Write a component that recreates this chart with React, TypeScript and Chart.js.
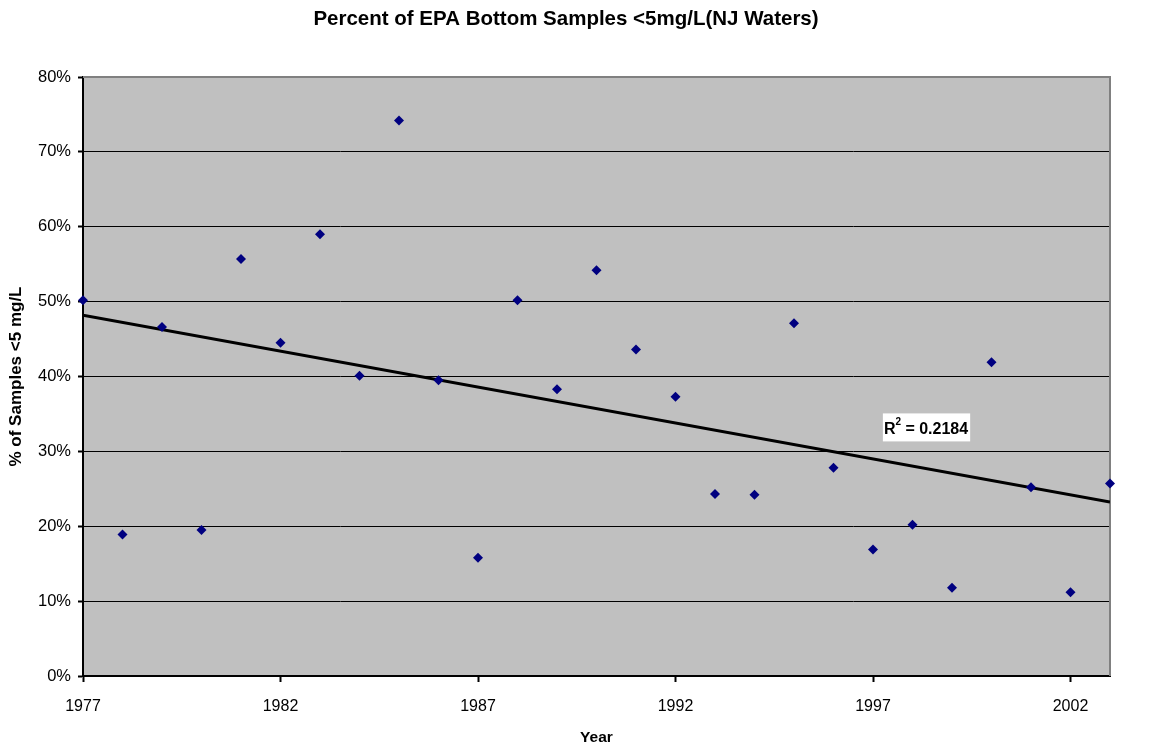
import React, { useEffect, useRef } from "react";
import { Chart, registerables } from "chart.js";

Chart.register(...registerables);

// Survey years and share of bottom samples below 5 mg/L dissolved oxygen (%)
const years: number[] = [
  1977, 1978, 1979, 1980, 1981, 1982, 1983, 1984, 1985, 1986, 1987, 1988, 1989,
  1990, 1991, 1992, 1993, 1994, 1995, 1996, 1997, 1998, 1999, 2000, 2001, 2002, 2003,
];
const percentBelow: number[] = [
  50.2, 18.9, 46.6, 19.5, 55.7, 44.5, 59.0, 40.1, 74.2, 39.5, 15.8, 50.2, 38.3,
  54.2, 43.6, 37.3, 24.3, 24.2, 47.1, 27.8, 16.9, 20.2, 11.8, 41.9, 25.2, 11.2, 25.7,
];
const xTickYears: number[] = [1977, 1982, 1987, 1992, 1997, 2002];
const rSquaredLabel = "0.2184";

const TITLE = "Percent of EPA Bottom Samples <5mg/L(NJ Waters)";
const FONT = "'Liberation Sans', Arial, sans-serif";

// Least-squares linear trend through the samples
function linearFit(xs: number[], ys: number[]) {
  const n = xs.length;
  const mx = xs.reduce((a, b) => a + b, 0) / n;
  const my = ys.reduce((a, b) => a + b, 0) / n;
  let sxy = 0;
  let sxx = 0;
  for (let i = 0; i < n; i++) {
    sxy += (xs[i] - mx) * (ys[i] - my);
    sxx += (xs[i] - mx) * (xs[i] - mx);
  }
  const slope = sxy / sxx;
  return { slope, intercept: my - slope * mx };
}

const plotFrame = {
  id: "plotFrame",
  beforeDraw(chart: any) {
    const { ctx, chartArea: a } = chart;
    ctx.save();
    ctx.fillStyle = "#C0C0C0";
    ctx.fillRect(a.left, a.top, a.right - a.left, a.bottom - a.top);
    // chart heading, centred over the whole figure
    ctx.fillStyle = "#000";
    ctx.font = `bold 20.5px ${FONT}`;
    ctx.textAlign = "center";
    ctx.textBaseline = "middle";
    ctx.fillText(TITLE, 566, 19);
    ctx.restore();
  },
  beforeDatasetsDraw(chart: any) {
    const { ctx, chartArea: a } = chart;
    ctx.save();
    ctx.strokeStyle = "#808080";
    ctx.lineWidth = 2;
    ctx.beginPath();
    ctx.moveTo(a.left, a.top);
    ctx.lineTo(a.right, a.top);
    ctx.lineTo(a.right, a.bottom);
    ctx.stroke();
    ctx.restore();
  },
  afterDatasetsDraw(chart: any) {
    const { ctx } = chart;
    const x = chart.scales.x.getPixelForValue(1997.25);
    const y = chart.scales.y.getPixelForValue(33.2);
    ctx.save();
    ctx.font = `bold 16px ${FONT}`;
    const main = "R";
    const rest = " = " + rSquaredLabel;
    const wMain = ctx.measureText(main).width;
    ctx.font = `bold 10px ${FONT}`;
    const wSup = ctx.measureText("2").width;
    ctx.font = `bold 16px ${FONT}`;
    const wRest = ctx.measureText(rest).width;
    const total = wMain + wSup + wRest;
    ctx.fillStyle = "#FFFFFF";
    ctx.fillRect(x, y - 14, total + 3, 28);
    ctx.fillStyle = "#000000";
    ctx.textBaseline = "alphabetic";
    const base = y + 7;
    ctx.fillText(main, x + 1, base);
    ctx.font = `bold 10px ${FONT}`;
    ctx.fillText("2", x + 1 + wMain, base - 9);
    ctx.font = `bold 16px ${FONT}`;
    ctx.fillText(rest, x + 1 + wMain + wSup, base);
    ctx.restore();
  },
};

export default function App() {
  const canvasRef = useRef<HTMLCanvasElement>(null);

  useEffect(() => {
    if (!canvasRef.current) return;
    const fit = linearFit(years, percentBelow);
    const x0 = years[0];
    const x1 = years[years.length - 1];

    const chart = new Chart(canvasRef.current, {
      type: "scatter",
      data: {
        datasets: [
          {
            label: "Samples",
            data: years.map((yr, i) => ({ x: yr, y: percentBelow[i] })),
            pointStyle: "rectRot",
            pointRadius: 5,
            pointBackgroundColor: "#000080",
            pointBorderColor: "#000080",
            borderWidth: 0,
            clip: false,
            order: 1,
          },
          {
            label: "Linear trend",
            type: "line",
            data: [
              { x: x0, y: fit.intercept + fit.slope * x0 },
              { x: x1, y: fit.intercept + fit.slope * x1 },
            ],
            borderColor: "#000000",
            borderWidth: 3,
            pointRadius: 0,
            fill: false,
            order: 2,
          },
        ],
      },
      plugins: [plotFrame],
      options: {
        responsive: false,
        animation: false,
        layout: { padding: { left: 0, right: 43, top: 77, bottom: 0 } },
        plugins: {
          legend: { display: false },
          tooltip: { enabled: false },
          title: { display: false },
        },
        scales: {
          x: {
            type: "linear",
            min: 1977,
            max: 2003,
            afterBuildTicks: (scale: any) => {
              scale.ticks = xTickYears.map((v) => ({ value: v }));
            },
            afterFit: (scale: any) => {
              scale.height = 74;
            },
            ticks: {
              callback: (v: any) => String(v),
              color: "#000",
              font: { family: FONT, size: 16 },
              padding: 15,
              maxRotation: 0,
              autoSkip: false,
            },
            grid: {
              drawOnChartArea: false,
              drawTicks: true,
              tickLength: 6,
              tickColor: "#000",
              tickWidth: 2,
            },
            border: { display: true, color: "#000", width: 2 },
            title: {
              display: true,
              text: "Year",
              color: "#000",
              font: { family: FONT, size: 15.5, weight: "bold" },
              padding: { top: 4, bottom: 3 },
            },
          },
          y: {
            min: 0,
            max: 80,
            afterFit: (scale: any) => {
              scale.width = 83;
            },
            ticks: {
              stepSize: 10,
              callback: (v: any) => v + "%",
              color: "#000",
              font: { family: FONT, size: 16.5 },
              padding: 7,
            },
            grid: {
              color: (c: any) => (c.tick && c.tick.value === 80 ? "rgba(0,0,0,0)" : "#000"),
              lineWidth: 1,
              drawTicks: true,
              tickLength: 5,
              tickColor: "#000",
              tickWidth: 2,
            },
            border: { display: true, color: "#000", width: 2 },
            title: {
              display: true,
              text: "% of Samples <5 mg/L",
              color: "#000",
              font: { family: FONT, size: 17, weight: "bold" },
              padding: { top: 6, bottom: 0 },
            },
          },
        },
      },
    });
    return () => chart.destroy();
  }, []);

  return (
    <div style={{ position: "fixed", left: 0, top: 0, width: 1153, height: 750, background: "#fff" }}>
      <canvas ref={canvasRef} width={1153} height={750} style={{ width: 1153, height: 750 }} />
    </div>
  );
}
